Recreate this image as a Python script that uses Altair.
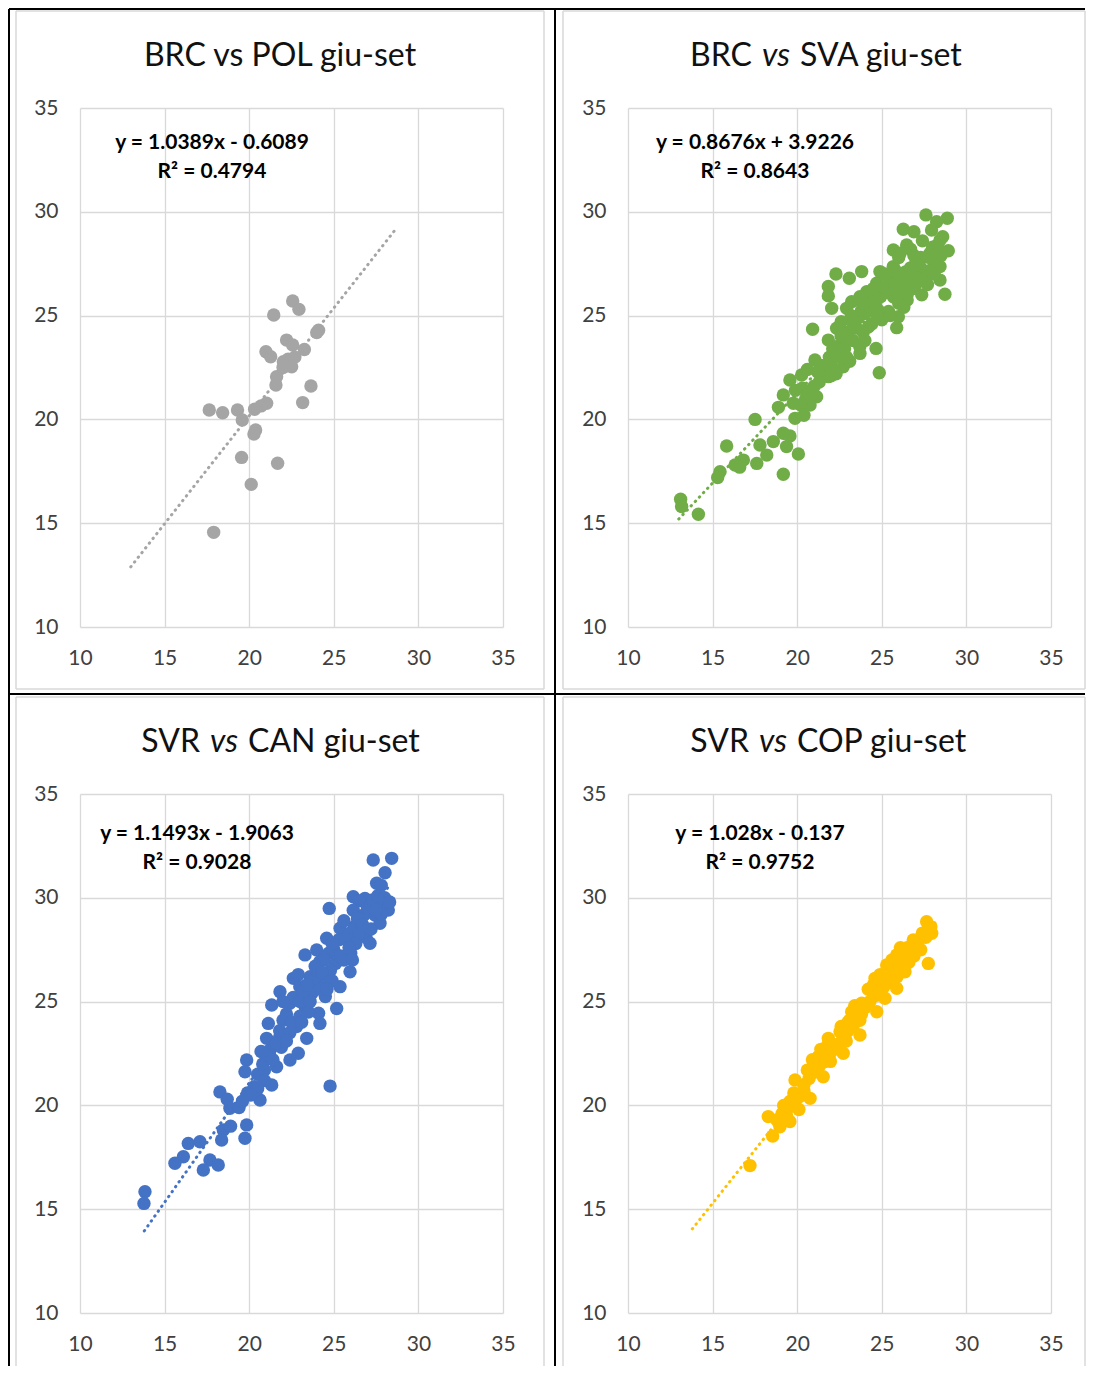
import altair as alt
import pandas as pd

FONT = "Lato"
TICKS = [10, 15, 20, 25, 30, 35]

# ---------------- data ----------------
brc_pol = [
    (22.57, 25.70), (22.94, 25.30), (21.45, 25.03), (23.99, 24.18), (24.10, 24.30),
    (22.21, 23.82), (22.57, 23.58), (23.26, 23.37), (20.99, 23.26), (21.27, 23.02),
    (22.02, 22.78), (22.30, 22.90), (22.51, 22.54), (22.40, 22.70), (21.62, 22.06),
    (21.58, 21.66), (23.65, 21.61), (23.16, 20.81), (21.03, 20.78), (20.70, 20.65),
    (17.64, 20.45), (18.43, 20.32), (19.31, 20.45), (19.59, 19.97), (20.32, 20.49),
    (20.38, 19.49), (20.28, 19.30), (19.55, 18.17), (21.68, 17.89), (20.12, 16.87),
    (17.90, 14.56), (22.70, 23.00), (22.00, 22.50),
]

brc_sva = [
    (27.61, 29.85), (28.87, 29.69), (28.24, 29.52), (26.27, 29.16), (26.90, 29.04),
    (27.94, 29.12), (28.44, 28.64), (28.93, 28.12), (25.68, 28.16), (26.47, 28.40),
    (26.08, 28.00), (27.85, 28.00), (27.30, 27.80), (28.44, 27.36), (28.44, 26.71),
    (28.73, 26.03), (27.36, 26.00), (28.10, 27.00), (26.86, 26.87), (25.68, 27.36),
    (24.89, 27.12), (25.50, 26.80), (26.27, 26.56), (26.86, 26.30), (24.70, 26.56),
    (24.11, 26.15), (23.71, 25.91), (24.50, 25.75), (25.70, 25.90), (26.50, 25.75),
    (23.22, 25.67), (22.92, 25.35), (23.80, 25.25), (24.80, 25.25), (25.98, 24.95),
    (25.88, 24.42), (23.40, 24.80), (24.20, 24.45), (22.33, 24.39), (20.91, 24.34),
    (21.84, 23.82), (22.90, 23.80), (23.70, 23.50), (22.30, 23.50), (24.66, 23.42),
    (23.71, 23.18), (22.92, 23.00), (21.90, 23.00), (21.05, 22.86), (22.72, 22.54),
    (21.84, 22.06), (22.30, 22.20), (24.85, 22.25), (20.26, 22.14), (19.57, 21.90),
    (21.00, 21.60), (21.15, 21.09), (20.76, 20.69), (19.77, 20.78), (19.18, 21.18),
    (19.87, 20.05), (18.89, 20.58), (17.51, 20.00), (19.18, 19.33), (19.57, 19.20),
    (18.59, 18.93), (17.80, 18.77), (19.37, 18.69), (20.07, 18.33), (18.20, 18.28),
    (17.61, 17.88), (16.82, 18.04), (16.33, 17.80), (16.60, 17.70), (15.83, 18.72),
    (15.44, 17.48), (15.30, 17.20), (19.18, 17.36), (13.11, 16.15), (13.17, 15.80),
    (14.16, 15.43), (22.29, 27.00), (23.08, 26.80), (23.81, 27.12), (21.84, 26.40),
    (21.84, 25.95), (22.04, 25.35),
    (22.6, 24.0), (23.0, 24.2), (23.3, 24.6), (23.6, 24.9), (24.0, 25.1),
    (24.3, 25.4), (24.6, 25.6), (24.9, 25.9), (25.2, 26.1), (25.5, 26.3),
    (25.8, 26.6), (26.1, 26.9), (26.4, 27.1), (26.7, 27.3), (27.0, 27.5),
    (27.3, 27.3), (27.6, 27.0), (27.9, 27.2), (28.2, 27.6), (28.5, 27.9),
    (27.0, 26.5), (26.5, 26.0), (26.0, 25.6), (25.4, 25.2), (25.0, 24.8),
    (24.4, 24.6), (23.9, 24.2), (23.3, 23.8), (22.8, 23.4), (22.4, 23.0),
    (22.0, 22.6), (21.6, 22.3), (21.3, 21.8), (20.9, 21.3), (20.5, 21.0),
    (20.2, 20.7), (25.2, 27.0), (24.5, 26.3), (23.9, 25.6), (23.2, 25.0),
    (22.6, 24.7), (26.0, 27.8), (26.7, 28.2), (27.4, 28.6), (28.0, 28.3),
    (28.6, 28.8), (27.7, 26.5), (26.3, 25.4), (25.5, 25.0), (24.0, 23.8),
    (23.1, 22.8), (22.0, 22.1), (21.4, 22.6), (20.6, 22.4), (25.0, 26.4),
    (26.2, 26.2), (27.2, 26.8), (27.8, 27.8), (28.3, 28.4), (26.9, 27.9),
    (25.9, 27.1), (24.7, 25.0), (23.5, 24.4), (22.1, 23.4), (21.2, 22.3),
    (20.3, 21.5), (19.9, 21.4), (20.4, 20.2),
]

svr_can = [
    (27.33, 31.82), (28.42, 31.90), (28.03, 31.21), (27.53, 30.70), (27.80, 30.60),
    (26.15, 30.05), (26.84, 29.97), (26.50, 29.85), (24.73, 29.49), (27.93, 29.73),
    (28.22, 29.41), (26.15, 29.40), (27.43, 29.17), (27.73, 28.77), (26.60, 28.90),
    (25.37, 28.53), (25.96, 28.29), (26.90, 28.10), (24.58, 28.05), (25.30, 27.98),
    (27.14, 27.81), (23.99, 27.49), (23.30, 27.25), (24.70, 27.33), (26.00, 27.33),
    (24.17, 26.92), (25.10, 26.84), (25.96, 26.44), (25.37, 25.72), (22.61, 26.12),
    (23.60, 26.20), (24.30, 26.04), (21.82, 25.48), (22.99, 25.72), (23.70, 25.40),
    (24.50, 25.24), (25.17, 24.67), (21.33, 24.84), (22.40, 24.92), (23.30, 24.76),
    (24.10, 24.44), (24.18, 23.95), (21.13, 23.95), (22.00, 24.10), (22.80, 23.80),
    (21.03, 23.23), (21.80, 23.30), (23.40, 23.23), (21.23, 22.67), (22.90, 22.51),
    (22.41, 22.19), (19.85, 22.19), (21.62, 21.86), (20.90, 21.70), (19.75, 21.62),
    (21.33, 20.98), (20.30, 20.90), (24.78, 20.93), (18.27, 20.65), (18.70, 20.30),
    (19.90, 20.60), (20.64, 20.26), (18.86, 19.86), (19.40, 19.90), (19.85, 19.06),
    (18.47, 18.82), (18.90, 19.00), (18.37, 18.33), (19.75, 18.42), (16.40, 18.17),
    (17.09, 18.25), (16.11, 17.53), (15.61, 17.21), (17.68, 17.37), (17.29, 16.89),
    (18.17, 17.13), (13.84, 15.84), (13.78, 15.28),
    (20.5, 21.5), (20.8, 22.0), (21.2, 22.4), (21.5, 22.9), (21.8, 23.6),
    (22.2, 24.4), (22.5, 24.0), (22.6, 25.2), (23.0, 25.0), (23.2, 25.5),
    (23.5, 24.5), (23.8, 26.0), (24.0, 26.5), (24.4, 27.0), (24.8, 26.5),
    (25.0, 27.5), (25.4, 27.2), (25.7, 28.0), (26.2, 28.6), (26.5, 28.3),
    (26.8, 29.2), (27.0, 29.5), (27.3, 29.9), (27.6, 30.1), (28.0, 30.0),
    (28.3, 29.8), (26.3, 27.8), (25.6, 27.0), (24.9, 26.0), (24.2, 25.6),
    (23.6, 25.0), (23.0, 24.3), (22.4, 23.5), (21.9, 22.8), (21.4, 22.2),
    (20.9, 21.2), (20.5, 20.8), (20.1, 20.5), (19.6, 20.2), (22.0, 25.0),
    (22.9, 26.3), (23.9, 26.7), (25.6, 28.9), (26.4, 29.0), (27.2, 28.5),
    (27.8, 29.2), (24.6, 25.6), (23.1, 24.0), (21.6, 23.0), (20.7, 22.6),
    (25.9, 27.6), (26.7, 28.7), (27.5, 29.4), (24.3, 26.4), (23.4, 25.8),
    (22.2, 23.1), (24.9, 27.8), (26.1, 27.0),
]

svr_cop = [
    (27.65, 28.85), (27.95, 28.29), (27.75, 26.84), (26.86, 27.97), (26.50, 27.60),
    (27.30, 27.50), (25.88, 27.25), (26.90, 27.20), (25.29, 26.76), (26.37, 26.44),
    (24.60, 26.12), (25.88, 25.64), (25.10, 25.70), (24.50, 25.40), (25.19, 25.16),
    (23.81, 24.92), (24.70, 24.51), (23.22, 24.51), (23.70, 24.10), (23.10, 24.10),
    (23.71, 23.39), (22.53, 23.55), (21.84, 23.23), (22.90, 23.10), (22.30, 22.90),
    (22.72, 22.51), (21.60, 22.60), (21.25, 22.35), (21.96, 22.12), (20.95, 21.95),
    (21.54, 21.38), (19.87, 21.22), (20.40, 21.00), (20.76, 20.34), (19.80, 20.60),
    (19.57, 20.19), (20.10, 19.80), (19.38, 19.46), (18.29, 19.46), (18.80, 19.30),
    (18.98, 18.97), (19.57, 19.22), (18.55, 18.53), (17.21, 17.10),
    (27.4, 28.3), (27.2, 28.0), (27.0, 27.8), (26.7, 27.4), (26.3, 27.1),
    (26.0, 26.8), (25.7, 26.5), (25.5, 26.2), (25.3, 25.9), (24.9, 25.7),
    (24.7, 25.3), (24.3, 25.0), (24.0, 24.7), (23.8, 24.4), (23.5, 24.2),
    (23.3, 23.8), (23.0, 23.6), (22.8, 23.3), (22.5, 23.0), (22.2, 22.7),
    (21.9, 22.4), (21.6, 22.1), (21.3, 21.9), (21.0, 21.6), (20.7, 21.3),
    (20.4, 20.7), (20.1, 20.4), (19.8, 20.1), (19.4, 19.8), (19.1, 19.6),
    (26.1, 27.6), (25.6, 27.0), (24.9, 26.3), (24.2, 25.6), (23.4, 24.8),
    (22.6, 23.8), (21.8, 22.9), (20.9, 22.2), (27.9, 28.6), (26.6, 26.9),
    (25.9, 26.2), (27.6, 28.1), (26.4, 26.8), (24.5, 25.8), (23.0, 24.0),
    (21.4, 22.7), (20.6, 21.7), (19.2, 20.0),
]

series = [brc_pol, brc_sva, svr_can, svr_cop]
title_left = ["BRC vs POL giu-set", "BRC", "SVR", "SVR"]
title_mid = ["", "vs", "vs", "vs"]
title_right = ["", "SVA giu-set", "CAN giu-set", "COP giu-set"]
equations = ["y = 1.0389x - 0.6089", "y = 0.8676x + 3.9226",
             "y = 1.1493x - 1.9063", "y = 1.028x - 0.137"]
r2_labels = ["R² = 0.4794", "R² = 0.8643", "R² = 0.9028", "R² = 0.9752"]
slopes = [1.0389, 0.8676, 1.1493, 1.028]
intercepts = [-0.6089, 3.9226, -1.9063, -0.137]
trend_x_start = [13.0, 13.0, 13.8, 13.8]
trend_x_end = [28.7, 28.9, 28.2, 28.3]
colors = ["#a5a5a5", "#70ad47", "#4472c4", "#ffc000"]

# ---------------- layout (pixels) ----------------
PW, PH = 423, 519
origins = [(80, 108), (628, 108), (80, 794), (628, 794)]
title_pos = [(280, 66), (776, 66), (224, 752), (773, 752)]
eq_center = [212, 755, 197, 760]
eq_y = [(143, 172), (143, 172), (834, 863), (834, 863)]
cell_box = [(16, 11, 544, 689), (563, 11, 1085, 689), (16, 697, 544, 1366), (563, 697, 1085, 1366)]


def one_row():
    return alt.Chart(pd.DataFrame({"k": [0]}))


def rule(o, x1, y1, x2, y2, color, w):
    ox, oy = o
    return one_row().mark_rule(color=color, strokeWidth=w).encode(
        x=alt.value(x1 - ox), y=alt.value(y1 - oy),
        x2=alt.value(x2 - ox), y2=alt.value(y2 - oy))


def text(o, x, y, s, **kw):
    ox, oy = o
    return one_row().mark_text(text=s, font=FONT, **kw).encode(
        x=alt.value(x - ox), y=alt.value(y - oy))


def panel(i):
    o = origins[i]
    pts = pd.DataFrame(series[i], columns=["x", "y"])
    xs = [trend_x_start[i], trend_x_end[i]]
    trend = pd.DataFrame({"x": xs, "y": [slopes[i] * v + intercepts[i] for v in xs]})
    sc = alt.Scale(domain=[10, 35], nice=False, zero=False)
    common = dict(values=TICKS, title=None, grid=True, gridColor="#d9d9d9", gridWidth=1.3,
                  domain=False, ticks=False, tickSize=0, labelFont=FONT, labelFontSize=21,
                  labelColor="#404040", labelFlush=False, labelOverlap=False)
    xax = alt.Axis(labelPadding=31, labelBaseline="middle", labelAngle=0, **common)
    yax = alt.Axis(labelPadding=22, **common)
    line = alt.Chart(trend).mark_line(color=colors[i], strokeWidth=3, strokeDash=[0.5, 5.5],
                                      strokeCap="round").encode(
        x=alt.X("x:Q", scale=sc, axis=xax), y=alt.Y("y:Q", scale=sc, axis=yax))
    dots = alt.Chart(pts).mark_circle(size=180, opacity=1, color=colors[i]).encode(
        x=alt.X("x:Q", scale=sc, axis=xax), y=alt.Y("y:Q", scale=sc, axis=yax))
    layers = [line, dots]
    tx, ty = title_pos[i]
    tcol = "#111111"
    fs = 32
    gap = 24
    if title_mid[i]:
        layers.append(text(o, tx - gap, ty, title_left[i], align="right", baseline="alphabetic",
                           fontSize=fs, color=tcol))
        layers.append(text(o, tx, ty, title_mid[i], align="center", baseline="alphabetic",
                           fontSize=fs, fontStyle="italic", color=tcol))
        layers.append(text(o, tx + gap, ty, title_right[i], align="left", baseline="alphabetic",
                           fontSize=fs, color=tcol))
    else:
        layers.append(text(o, tx, ty, title_left[i], align="center", baseline="alphabetic",
                           fontSize=fs, color=tcol))
    ey1, ey2 = eq_y[i]
    layers.append(text(o, eq_center[i], ey1, equations[i], align="center", baseline="middle",
                       fontSize=21, fontWeight="bold", color="#000000"))
    layers.append(text(o, eq_center[i], ey2, r2_labels[i], align="center", baseline="middle",
                       fontSize=21, fontWeight="bold", color="#000000"))
    gx1, gy1, gx2, gy2 = cell_box[i]
    g = "#d9d9d9"
    layers += [rule(o, gx1, gy1, gx1, gy2, g, 1.5), rule(o, gx2, gy1, gx2, gy2, g, 1.5),
               rule(o, gx1, gy1, gx2, gy1, g, 1.5)]
    if i < 2:
        layers.append(rule(o, gx1, gy2, gx2, gy2, g, 1.5))
    if i == 0:
        k = "#000000"
        layers += [rule(o, 9, 9, 1085, 9, k, 2), rule(o, 9, 694, 1085, 694, k, 2),
                   rule(o, 9, 9, 9, 1366, k, 2), rule(o, 555, 9, 555, 1366, k, 2)]
    return alt.layer(*layers).properties(width=PW, height=PH)


chart = alt.concat(*[panel(i) for i in range(4)], columns=2,
                   spacing={"row": 167, "column": 125}, bounds="flush", padding=0,
                   background="white").configure_view(strokeWidth=0)

chart.save("out.html", embed_options={"renderer": "svg", "actions": False})
